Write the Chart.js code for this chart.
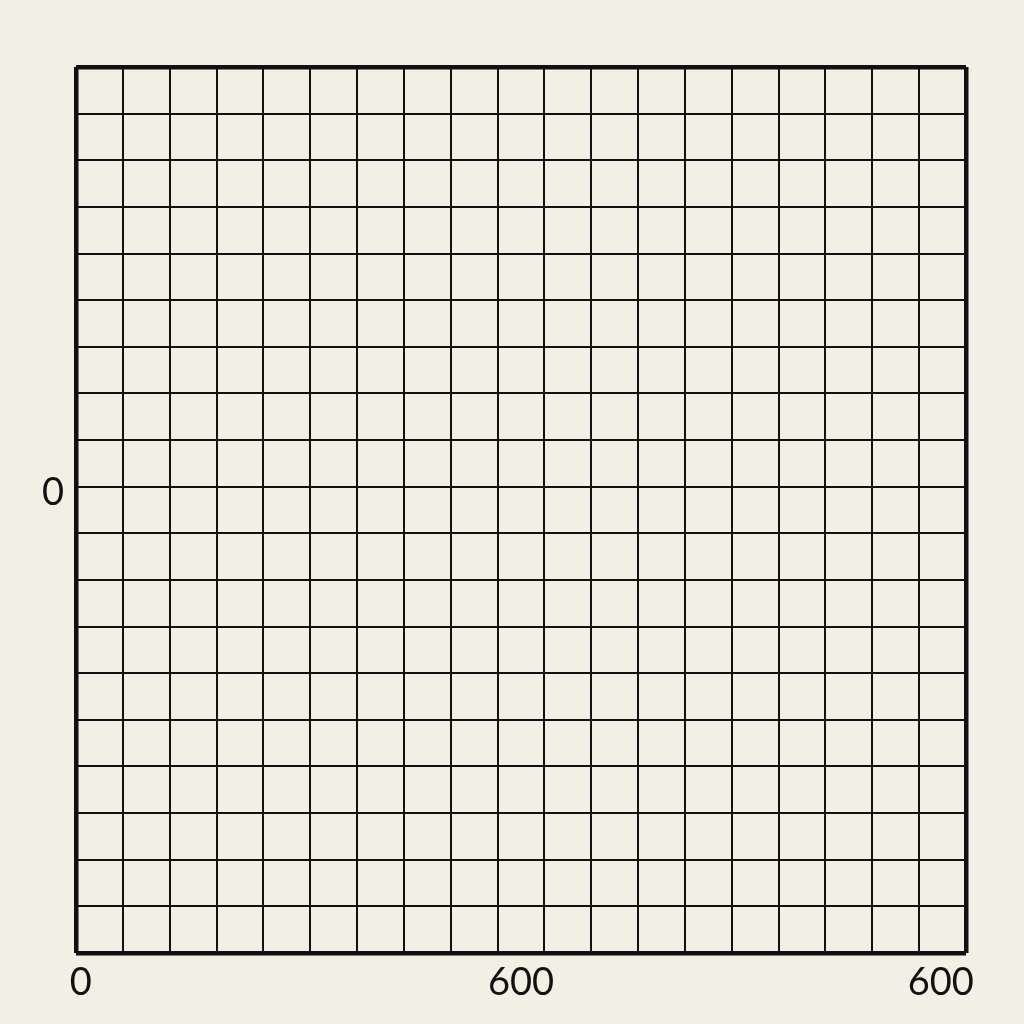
<!DOCTYPE html>
<html>
<head>
<meta charset="utf-8">
<script src="https://cdn.jsdelivr.net/npm/chart.js@4"></script>
<style>
  html, body { margin:0; padding:0; background:#f2efe4; }
  #wrap { width:1024px; height:1024px; }
</style>
</head>
<body>
<div id="wrap"><canvas id="grade"></canvas></div>
<script>
// grade vazia: 19 x 19 células, só rótulos nos eixos
const colunas = 19;
const linhas = 19;
const pontos = [];                       // nenhum valor desenhado na figura
const xTickValores = [0.1, 9.5, 18.46];
const xTickRotulos = ['0', '600', '600'];
const yTickValores = [10];
const yTickRotulos = ['0'];

function ticksGrade(n, extras){
  const t = [];
  for(let i=0;i<=n;i++) t.push({value:i});
  extras.forEach(v=>{ if(!Number.isInteger(v)) t.push({value:v}); });
  return t.sort((a,b)=>a.value-b.value);
}

function rotulo(valores, rotulos){
  return v => { const i = valores.indexOf(v); return i >= 0 ? rotulos[i] : ''; };
}

function corLinha(n){
  return ctx => Number.isInteger(ctx.tick.value) ? '#111' : 'rgba(0,0,0,0)';
}
function larguraLinha(n){
  return ctx => (ctx.tick.value === 0 || ctx.tick.value === n) ? 4.5 : 2;
}

const ctx = document.getElementById('grade').getContext('2d');
new Chart(ctx, {
  type: 'scatter',
  data: { datasets: [{ data: pontos, pointRadius: 0 }] },
  options: {
    responsive: true,
    maintainAspectRatio: false,
    animation: false,
    layout: { padding: { left: 0, top: 67, right: 58, bottom: 0 } },
    plugins: { legend: { display: false }, tooltip: { enabled: false } },
    scales: {
      x: {
        type: 'linear', min: 0, max: colunas,
        afterBuildTicks: s => { s.ticks = ticksGrade(colunas, xTickValores); },
        afterFit: s => { s.height = 1024 - 953; },
        border: { display: false },
        grid: { color: corLinha(colunas), lineWidth: larguraLinha(colunas), drawTicks: false },
        ticks: {
          autoSkip: false, maxRotation: 0, padding: 7,
          color: '#111', font: { family: 'Lato', size: 38 },
          callback: rotulo(xTickValores, xTickRotulos)
        }
      },
      y: {
        type: 'linear', min: 0, max: linhas,
        afterBuildTicks: s => { s.ticks = ticksGrade(linhas, yTickValores); },
        afterFit: s => { s.width = 76; },
        border: { display: false },
        grid: { color: corLinha(linhas), lineWidth: larguraLinha(linhas), drawTicks: false },
        ticks: {
          autoSkip: false, padding: 12, labelOffset: 6,
          color: '#111', font: { family: 'Lato', size: 38 },
          callback: rotulo(yTickValores, yTickRotulos)
        }
      }
    }
  }
});
</script>
</body>
</html>
